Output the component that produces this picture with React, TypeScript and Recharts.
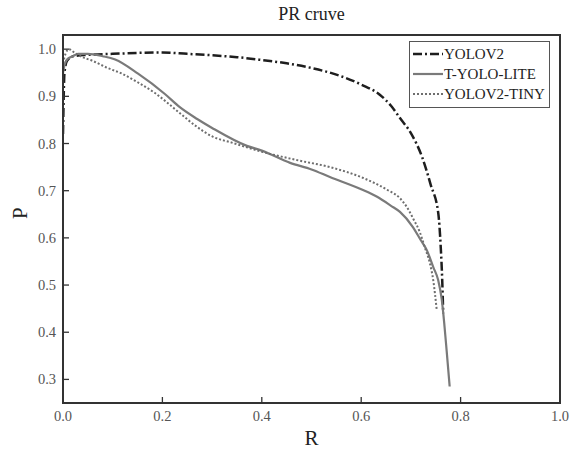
import React from 'react';
import { LineChart, Line, XAxis, YAxis, ReferenceArea } from 'recharts';

// recall R and precision P
const yolov2R = [0, 0.003, 0.008, 0.02, 0.05, 0.1, 0.15, 0.2, 0.25, 0.3, 0.35, 0.4, 0.45, 0.5, 0.55, 0.6, 0.638, 0.66, 0.678, 0.7, 0.723, 0.74, 0.755, 0.76, 0.763, 0.765];
const yolov2P = [0.82, 0.95, 0.975, 0.985, 0.988, 0.99, 0.992, 0.993, 0.99, 0.987, 0.983, 0.977, 0.97, 0.96, 0.946, 0.925, 0.903, 0.88, 0.854, 0.822, 0.77, 0.712, 0.653, 0.581, 0.511, 0.44];

const liteR = [0, 0.004, 0.01, 0.02, 0.03, 0.05, 0.08, 0.105, 0.151, 0.205, 0.235, 0.27, 0.3, 0.37, 0.4, 0.457, 0.5, 0.537, 0.6, 0.632, 0.66, 0.678, 0.704, 0.72, 0.732, 0.745, 0.755, 0.762, 0.767, 0.772, 0.778];
const liteP = [0.95, 0.97, 0.98, 0.985, 0.99, 0.99, 0.985, 0.978, 0.948, 0.905, 0.877, 0.852, 0.833, 0.795, 0.785, 0.759, 0.745, 0.729, 0.703, 0.687, 0.668, 0.655, 0.623, 0.595, 0.574, 0.538, 0.51, 0.47, 0.42, 0.36, 0.285];

const tinyR = [0, 0.005, 0.012, 0.02, 0.035, 0.06, 0.09, 0.119, 0.15, 0.185, 0.231, 0.27, 0.302, 0.336, 0.402, 0.47, 0.537, 0.604, 0.652, 0.678, 0.692, 0.705, 0.718, 0.728, 0.738, 0.745, 0.752];
const tinyP = [0.97, 0.99, 1.0, 0.995, 0.985, 0.975, 0.96, 0.948, 0.93, 0.907, 0.868, 0.835, 0.814, 0.803, 0.782, 0.765, 0.75, 0.727, 0.702, 0.684, 0.665, 0.64, 0.612, 0.58, 0.547, 0.51, 0.447];

const xTicks = [0, 0.2, 0.4, 0.6, 0.8, 1.0];
const yTicks = [0.3, 0.4, 0.5, 0.6, 0.7, 0.8, 0.9, 1.0];
const yDomain = [0.25, 1.03];

const toPoints = (r: number[], p: number[]) => r.map((v, i) => ({ r: v, p: p[i] }));

const series = [
  { name: 'YOLOV2', data: toPoints(yolov2R, yolov2P), color: '#1e1e1e', width: 2.5, dash: '9 3 2 3' },
  { name: 'T-YOLO-LITE', data: toPoints(liteR, liteP), color: '#7a7a7a', width: 2.2, dash: undefined },
  { name: 'YOLOV2-TINY', data: toPoints(tinyR, tinyP), color: '#6e6e6e', width: 2, dash: '2 2' },
];

const FONT = '"Liberation Serif", "DejaVu Serif", serif';

const XTick = (props: any) => {
  const { x, y, payload } = props;
  return (
    <g>
      <line x1={x} x2={x} y1={y} y2={y - 6} stroke="#333" strokeWidth={1.3} />
      <text x={x} y={y + 18} textAnchor="middle" fontFamily={FONT} fontSize={14.5} fill="#555">
        {payload.value.toFixed(1)}
      </text>
    </g>
  );
};

const YTick = (props: any) => {
  const { x, y, payload } = props;
  return (
    <g>
      <line x1={x} x2={x + 6} y1={y} y2={y} stroke="#333" strokeWidth={1.3} />
      <text x={x - 7} y={y + 5} textAnchor="end" fontFamily={FONT} fontSize={14.5} fill="#555">
        {payload.value.toFixed(1)}
      </text>
    </g>
  );
};

const LegendBox = () => (
  <div
    style={{
      position: 'absolute', left: 409, top: 41,
      border: '1.5px solid #555',
      background: '#fff',
      padding: '2px 4px 3px 3px',
      fontFamily: FONT,
      fontSize: 15,
      color: '#222',
      lineHeight: '20px',
    }}
  >
    {series.map(s => (
      <div key={s.name} style={{ display: 'flex', alignItems: 'center', whiteSpace: 'nowrap' }}>
        <svg width={30} height={10} style={{ marginRight: 1 }}>
          <line x1={0} x2={30} y1={5} y2={5} stroke={s.color} strokeWidth={s.width} strokeDasharray={s.dash} />
        </svg>
        <span>{s.name}</span>
      </div>
    ))}
  </div>
);

export default function App() {
  return (
    <div style={{ position: 'absolute', left: 0, top: 0, width: 582, height: 451, background: '#fff' }}>
      <div
        style={{
          position: 'absolute', left: 0, top: 4, width: 623, textAlign: 'center',
          fontFamily: FONT, fontSize: 18, color: '#222',
        }}
      >
        PR cruve
      </div>
      <LineChart width={582} height={451} margin={{ top: 35, right: 22, bottom: 0, left: 0 }}>
        <XAxis
          xAxisId="b"
          type="number"
          dataKey="r"
          domain={[0, 1]}
          ticks={xTicks}
          tickSize={0}
          tickMargin={0}
          tickLine={false}
          tick={<XTick />}
          axisLine={{ stroke: '#333', strokeWidth: 2 }}
          allowDataOverflow
          height={48}
          label={{ value: 'R', position: 'insideBottom', offset: 6, fontFamily: FONT, fontSize: 21, fill: '#222' }}
        />
        <YAxis
          yAxisId="l"
          type="number"
          domain={yDomain}
          ticks={yTicks}
          tickSize={0}
          tickMargin={0}
          tickLine={false}
          tick={<YTick />}
          axisLine={{ stroke: '#333', strokeWidth: 2 }}
          allowDataOverflow
          width={63}
          label={{ value: 'P', angle: -90, position: 'insideLeft', offset: 20, fontFamily: FONT, fontSize: 21, fill: '#222' }}
        />
        <ReferenceArea
          xAxisId="b"
          yAxisId="l"
          x1={0}
          x2={1}
          y1={yDomain[0]}
          y2={yDomain[1]}
          fill="none"
          fillOpacity={0}
          stroke="#333"
          strokeWidth={2}
          ifOverflow="visible"
        />
        {series.map(s => (
          <Line
            key={s.name}
            xAxisId="b"
            yAxisId="l"
            data={s.data}
            dataKey="p"
            name={s.name}
            type="monotone"
            stroke={s.color}
            strokeWidth={s.width}
            strokeDasharray={s.dash}
            dot={false}
            isAnimationActive={false}
          />
        ))}
      </LineChart>
      <LegendBox />
    </div>
  );
}
